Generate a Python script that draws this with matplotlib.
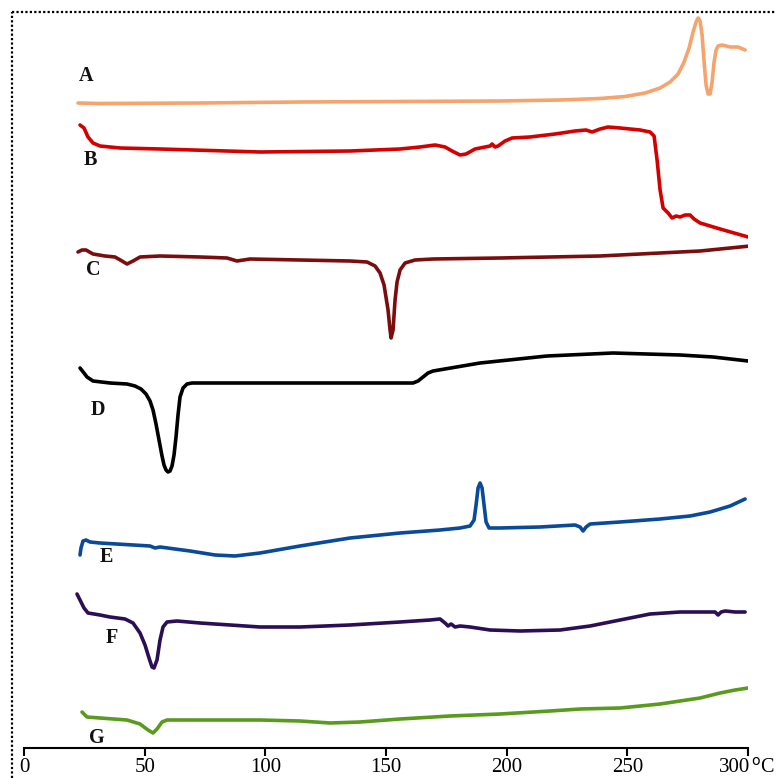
import matplotlib
matplotlib.use("Agg")
import matplotlib.pyplot as plt
from matplotlib.lines import Line2D
import matplotlib.transforms as mtransforms

# ---- data: temperature (°C) and stacked DSC signal (arbitrary units, offset per curve) ----
PX0, PXS = 24.0, 2.413   # helper to convert read positions -> temperature
def T(xs):
    return [(x - PX0) / PXS for x in xs]

def S(ys):
    return [748 - y for y in ys]

A_x = [78,100,200,300,400,500,560,600,625,645,660,670,678,684,689,693,696,698,700,702,704,706,708,710,712,714,716,718,722,730,738,745]
A_y = [103,103.5,103,102,101.5,101,100,98.5,96.5,93,88,82,74,62,48,32,22,18,21,35,62,85,94,94,82,62,50,46,45,47,47,50]

B_x = [80,84,88,93,100,120,160,260,350,400,420,435,445,452,460,466,475,485,490,492,495,498,505,512,530,555,575,586,592,600,608,620,640,650,654,657,660,663,668,672,676,680,685,690,694,700,720,748]
B_y = [125,128,137,143,146,148,149,152,151,149,147,145,147,151,155,154,149,147,146,144,147,146,141,138,137,134,131,130,132,129,127,128,130,132,136,160,190,208,213,218,216,217,215,215,219,223,229,237]

C_x = [78,82,86,93,105,115,122,127,133,140,160,200,227,237,250,300,350,367,375,380,384,388,390,391,393,395,397,400,405,415,433,500,600,700,750]
C_y = [252,250,250,254,256,257,261,264,261,257,256,257,258,261,259,260,261,262,266,273,285,310,330,338,330,300,282,270,263,260,259,258,256,251,246]

D_x = [80,84,87,93,110,127,135,141,146,150,153,156,159,162,164,166,168,170,172,174,176,178,180,183,187,192,233,300,400,413,418,423,428,433,480,547,613,680,713,748]
D_y = [368,373,377,381,383,384,386,389,394,401,410,424,440,456,465,470,472,471,466,455,437,415,397,388,384,383,383,383,383,383,381,377,373,371,363,356,353,355,357,361]

E_x = [80,81,83,86,90,100,150,155,160,190,215,235,260,300,350,400,440,460,470,474,476,478,480,482,484,486,489,500,540,575,580,583,586,590,620,660,690,710,730,745]
E_y = [555,548,541,540,542,543,546,548,547,551,555,556,553,546,538,533,530,528,526,520,505,488,483,488,505,522,528,528,527,525,527,531,527,524,522,519,516,512,506,499]

F_x = [77,80,84,88,100,110,125,133,140,145,149,152,154,157,160,163,167,177,200,260,300,350,400,430,440,445,448,451,455,460,470,490,520,560,590,620,650,680,700,715,718,721,725,735,745]
F_y = [594,600,608,613,615,617,619,623,633,645,658,667,668,660,640,627,622,621,623,627,627,625,622,620,619,623,626,624,627,626,627,630,631,630,626,620,614,612,612,612,615,612,611,612,612]

G_x = [82,84,87,100,127,140,148,153,157,162,167,200,260,300,330,360,400,450,500,550,580,620,660,700,720,735,748]
G_y = [712,714,717,718,720,724,730,733,729,722,720,720,720,721,723,722,719,716,714,711,709,708,704,698,693,690,688]

series_names = ["A", "B", "C", "D", "E", "F", "G"]
series_colors = ["#F4A46C", "#D40000", "#7A0E0E", "#000000", "#0A4A98", "#2B0E55", "#5A9A1E"]
series_xy = [(A_x, A_y), (B_x, B_y), (C_x, C_y), (D_x, D_y), (E_x, E_y), (F_x, F_y), (G_x, G_y)]
label_pos = [(86, 76), (90, 160), (93, 270), (98, 410), (106, 557), (112, 638), (97, 738)]

xticks = [0, 50, 100, 150, 200, 250, 300]
xticklabels = ["0", "50", "100", "150", "200", "250", "300"]

W, H = 776, 778
fig = plt.figure(figsize=(W / 100, H / 100), dpi=100)
ax = fig.add_axes([24 / W, 1 - 748 / H, (748 - 24) / W, 748 / H])
ax.set_xlim(0, 300)
ax.set_ylim(0, 748)

for (xs, ys), c in zip(series_xy, series_colors):
    ax.plot(T(xs), S(ys), color=c, lw=2.6, solid_joinstyle="round", solid_capstyle="round")

for name, (lx, ly) in zip(series_names, label_pos):
    ax.text(T([lx])[0], S([ly])[0], name, ha="center", va="center",
            fontsize=14.5, fontweight="bold", family="Liberation Serif", color="#111111")

for s in ["top", "right", "left"]:
    ax.spines[s].set_visible(False)
ax.spines["bottom"].set_linewidth(1.5)
ax.set_yticks([])
ax.set_xticks(xticks)
ax.set_xticklabels(xticklabels, family="Liberation Serif", fontsize=15)
ax.tick_params(axis="x", direction="out", length=6, width=1.5, pad=1.5)
labs = ax.get_xticklabels()
labs[-1].set_horizontalalignment("right")
labs[-1].set_transform(labs[-1].get_transform() +
                       mtransforms.ScaledTranslation(2 / 100, 0, fig.dpi_scale_trans))
ax.text(1.0, 0, "$^{\\mathrm{o}}$C", transform=ax.transAxes +
        mtransforms.ScaledTranslation(3 / 100, -20 / 100, fig.dpi_scale_trans),
        ha="left", va="center", fontsize=14.5, family="Liberation Serif")

# dotted frame (left and top edges visible)
fig.add_artist(Line2D([12 / W, 12 / W], [0, 1 - 12 / H], transform=fig.transFigure,
                      color="black", lw=1.6, ls=(0, (1, 1))))
fig.add_artist(Line2D([12 / W, 1], [1 - 12 / H, 1 - 12 / H], transform=fig.transFigure,
                      color="black", lw=1.6, ls=(0, (1, 1))))

fig.savefig("out.png", dpi=100)
